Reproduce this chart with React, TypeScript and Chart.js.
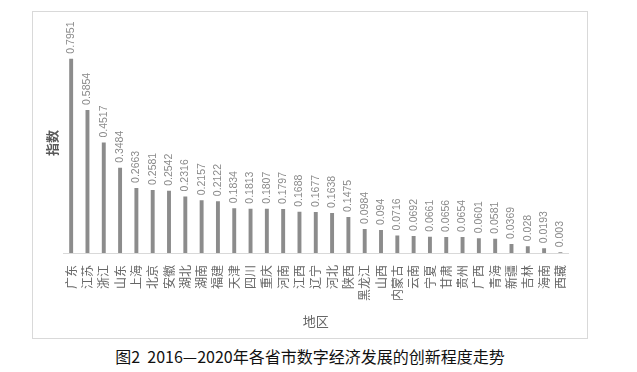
import React, { useEffect, useRef } from "react";
import { Chart, registerables } from "chart.js";

Chart.register(...registerables);

const regions = ["广东","江苏","浙江","山东","上海","北京","安徽","湖北","湖南","福建","天津","四川","重庆","河南","江西","辽宁","河北","陕西","黑龙江","山西","内蒙古","云南","宁夏","甘肃","贵州","广西","青海","新疆","吉林","海南","西藏"];
const indexValues = [0.7951,0.5854,0.4517,0.3484,0.2663,0.2581,0.2542,0.2316,0.2157,0.2122,0.1834,0.1813,0.1807,0.1797,0.1688,0.1677,0.1638,0.1475,0.0984,0.094,0.0716,0.0692,0.0661,0.0656,0.0654,0.0601,0.0581,0.0369,0.028,0.0193,0.003];
const valueLabels = ["0.7951","0.5854","0.4517","0.3484","0.2663","0.2581","0.2542","0.2316","0.2157","0.2122","0.1834","0.1813","0.1807","0.1797","0.1688","0.1677","0.1638","0.1475","0.0984","0.094","0.0716","0.0692","0.0661","0.0656","0.0654","0.0601","0.0581","0.0369","0.028","0.0193","0.003"];
const yTitle = "指数";
const xTitle = "地区";
const caption = "图2  2016—2020年各省市数字经济发展的创新程度走势";

const valueLabelPlugin = {
  id: "valueLabels",
  afterDatasetsDraw(chart: any) {
    const ctx = chart.ctx;
    const meta = chart.getDatasetMeta(0);
    ctx.save();
    ctx.font = "10.5px 'Liberation Sans', Arial, sans-serif";
    ctx.fillStyle = "#8a8a8a";
    ctx.textAlign = "left";
    ctx.textBaseline = "middle";
    meta.data.forEach((bar: any, i: number) => {
      ctx.save();
      ctx.translate(bar.x, bar.y - 5);
      ctx.rotate(-Math.PI / 2);
      ctx.fillText(valueLabels[i], 0, 0);
      ctx.restore();
    });
    ctx.restore();
  },
};

export default function App() {
  const ref = useRef<HTMLCanvasElement | null>(null);
  useEffect(() => {
    if (!ref.current) return;
    const chart = new Chart(ref.current, {
      type: "bar",
      data: {
        labels: regions,
        datasets: [
          {
            data: indexValues,
            backgroundColor: "#8c8c8c",
            barPercentage: 0.24,
            categoryPercentage: 1,
          },
        ],
      },
      options: {
        animation: false,
        responsive: false,
        maintainAspectRatio: false,
        layout: { padding: { top: 21, right: 12, left: 0, bottom: 0 } },
        plugins: { legend: { display: false }, tooltip: { enabled: false } },
        scales: {
          x: {
            grid: { display: false, drawTicks: false },
            border: { display: true, color: "#d9d9d9", width: 1 },
            ticks: {
              autoSkip: false,
              minRotation: 90,
              maxRotation: 90,
              padding: 12,
              color: "#666666",
              font: { family: "'Noto Sans CJK SC', sans-serif", size: 12 },
            },
            title: {
              display: true,
              text: xTitle,
              color: "#666666",
              padding: { top: 0, bottom: 9 },
              font: { family: "'Noto Sans CJK SC', sans-serif", size: 13 },
            },
            afterFit(scale: any) {
              scale.height = 85;
            },
          },
          y: {
            min: 0,
            max: 0.9,
            grid: { display: false, drawTicks: false },
            border: { display: false },
            ticks: { display: false },
            title: {
              display: true,
              text: yTitle,
              color: "#595959",
              padding: { top: 11, bottom: 0 },
              font: { family: "'Noto Sans CJK SC', sans-serif", size: 13, weight: "bold" },
            },
            afterFit(scale: any) {
              scale.width = 30;
            },
          },
        },
      },
      plugins: [valueLabelPlugin],
    });
    return () => chart.destroy();
  }, []);

  return (
    <div style={{ position: "absolute", left: 0, top: 0, width: 637, height: 372, background: "#ffffff" }}>
      <div
        style={{
          position: "absolute",
          left: 32,
          top: 11,
          width: 556,
          height: 328,
          boxSizing: "border-box",
          border: "1px solid #d9d9d9",
        }}
      >
        <canvas ref={ref} width={554} height={326} style={{ display: "block", width: 554, height: 326 }} />
      </div>
      <div
        style={{
          position: "absolute",
          left: 0,
          top: 345,
          width: 620,
          textAlign: "center",
          fontFamily: "'Noto Sans CJK SC', sans-serif",
          fontSize: 16,
          lineHeight: "22px",
          color: "#111111",
          whiteSpace: "pre",
        }}
      >
        {caption}
      </div>
    </div>
  );
}
